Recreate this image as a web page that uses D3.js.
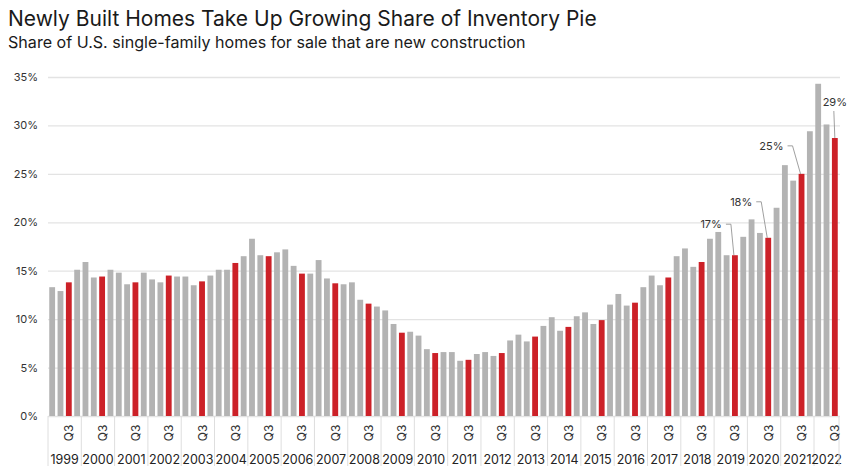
<!DOCTYPE html>
<html lang="en">
<head>
<meta charset="utf-8">
<title>Newly Built Homes</title>
<script src="https://cdn.jsdelivr.net/npm/d3@7"></script>
<style>
body { margin: 0; background: #fff; }
.title { font-family: Inter, sans-serif; font-size: 21px; fill: #1a1a1a; }
.subtitle { font-family: Inter, sans-serif; font-size: 16.1px; fill: #1a1a1a; }
.tick text, .lbl { font-family: Inter, sans-serif; font-size: 11px; fill: #333; }
.q3 { font-family: Inter, sans-serif; font-size: 12px; fill: #333; }
.year { font-family: Inter, sans-serif; font-size: 12.5px; fill: #222; }
</style>
</head>
<body>
<div id="chart"></div>
<script>
// quarterly share (%) of single-family homes for sale that are new construction
var years = d3.range(1999, 2023);
var quarters = ["Q1", "Q2", "Q3", "Q4"];
var shares = [
  13.3, 12.9, 13.8, 15.1,   // 1999
  15.9, 14.3, 14.4, 15.1,   // 2000
  14.8, 13.6, 13.8, 14.8,   // 2001
  14.1, 13.8, 14.5, 14.4,   // 2002
  14.4, 13.5, 13.9, 14.5,   // 2003
  15.1, 15.1, 15.8, 16.5,   // 2004
  18.3, 16.6, 16.5, 16.9,   // 2005
  17.2, 15.5, 14.7, 14.7,   // 2006
  16.1, 14.2, 13.7, 13.6,   // 2007
  13.8, 12.0, 11.6, 11.3,   // 2008
  10.9, 9.5, 8.6, 8.7,      // 2009
  8.3, 6.9, 6.5, 6.6,       // 2010
  6.6, 5.7, 5.8, 6.4,       // 2011
  6.6, 6.2, 6.5, 7.8,       // 2012
  8.4, 7.7, 8.2, 9.3,       // 2013
  10.2, 8.8, 9.2, 10.3,     // 2014
  10.7, 9.5, 9.9, 11.5,     // 2015
  12.6, 11.4, 11.7, 13.3,   // 2016
  14.5, 13.5, 14.3, 16.5,   // 2017
  17.3, 15.4, 15.9, 18.3,   // 2018
  19.0, 16.6, 16.6, 18.5,   // 2019
  20.3, 18.9, 18.4, 21.5,   // 2020
  25.9, 24.3, 25.0, 29.4,   // 2021
  34.3, 30.1, 28.7          // 2022
];
var yTicks = [0, 5, 10, 15, 20, 25, 30, 35];
var callouts = [
  { key: "2019 Q3", text: "17%" },
  { key: "2020 Q3", text: "18%" },
  { key: "2021 Q3", text: "25%" },
  { key: "2022 Q3", text: "29%" }
];

var data = shares.map(function(v, i) {
  var yr = years[Math.floor(i / 4)], q = quarters[i % 4];
  return { key: yr + " " + q, year: yr, q: q, value: v };
});

var w = 860, h = 474;
var mLeft = 48, mRight = 839, mTop = 77, mBottom = 416;

var svg = d3.select("#chart").append("svg")
  .attr("width", w).attr("height", h);

svg.append("text").attr("class", "title").attr("x", 8).attr("y", 26)
  .text("Newly Built Homes Take Up Growing Share of Inventory Pie");
svg.append("text").attr("class", "subtitle").attr("x", 8).attr("y", 48)
  .text("Share of U.S. single-family homes for sale that are new construction");

var x = d3.scaleBand().domain(data.map(function(d) { return d.key; }))
  .range([mLeft, mRight]).paddingInner(0.3).paddingOuter(0.15);
var y = d3.scaleLinear().domain([0, 35]).range([mBottom, mTop]);

// grid + y labels
var yAxis = svg.append("g").attr("transform", "translate(" + mLeft + ",0)")
  .call(d3.axisLeft(y).tickValues(yTicks).tickSize(-(mRight - mLeft + 1))
    .tickFormat(function(d) { return d + "%"; }).tickPadding(10));
yAxis.select(".domain").remove();
yAxis.selectAll(".tick line").attr("stroke", "#e3e3e3").attr("stroke-width", 1.3);

// bars
svg.selectAll("rect.bar").data(data).enter().append("rect")
  .attr("class", "bar")
  .attr("x", function(d) { return x(d.key); })
  .attr("width", x.bandwidth())
  .attr("y", function(d) { return y(d.value); })
  .attr("height", function(d) { return y(0) - y(d.value); })
  .attr("fill", function(d) { return d.q == "Q3" ? "#cc2128" : "#b3b3b3"; });

// year separators and labels
var step = x.step();
var yearStart = function(yr) { return x(yr + " Q1") - step * x.paddingInner() / 2; };
years.forEach(function(yr) {
  var x0 = yr == years[0] ? mLeft : yearStart(yr);
  svg.append("line").attr("x1", x0).attr("x2", x0)
    .attr("y1", mBottom).attr("y2", 466)
    .attr("stroke", "#dedede").attr("stroke-width", 1);
  var x1 = yr == years[years.length - 1] ? mRight : yearStart(yr + 1);
  svg.append("text").attr("class", "year")
    .attr("x", (x0 + x1) / 2).attr("y", 464)
    .attr("text-anchor", "middle").text(yr);
});
svg.append("line").attr("x1", mRight).attr("x2", mRight)
  .attr("y1", mBottom).attr("y2", 466).attr("stroke", "#dedede");

// Q3 rotated labels
data.filter(function(d) { return d.q == "Q3"; }).forEach(function(d) {
  var cx = x(d.key) + x.bandwidth() / 2;
  svg.append("text").attr("class", "q3")
    .attr("transform", "translate(" + (cx + 4.5) + ",433) rotate(-90)")
    .attr("text-anchor", "middle").text("Q3");
});

// callouts
var offsets = [[-13, 31], [-16, 36], [-18, 28], [0, 36]];
callouts.forEach(function(c, i) {
  var d = data.find(function(e) { return e.key == c.key; });
  var cx = x(d.key) + x.bandwidth() / 2, ty = y(d.value);
  var o = offsets[i], ly = ty - o[1];
  if (o[0] == 0) {
    svg.append("text").attr("class", "lbl").attr("x", cx).attr("y", ly + 4)
      .attr("text-anchor", "middle").text(c.text);
    svg.append("path").attr("d", "M" + (cx - 1) + "," + (ly + 9) + "L" + cx + "," + ty)
      .attr("fill", "none").attr("stroke", "#888").attr("stroke-width", 0.8);
  } else {
    var lx = cx + o[0];
    svg.append("text").attr("class", "lbl").attr("x", lx).attr("y", ly + 4)
      .attr("text-anchor", "end").text(c.text);
    svg.append("path")
      .attr("d", "M" + (lx + 4) + "," + ly + "H" + (lx + 9) + "L" + (cx - 1) + "," + ty)
      .attr("fill", "none").attr("stroke", "#888").attr("stroke-width", 0.8);
  }
});
</script>
</body>
</html>
